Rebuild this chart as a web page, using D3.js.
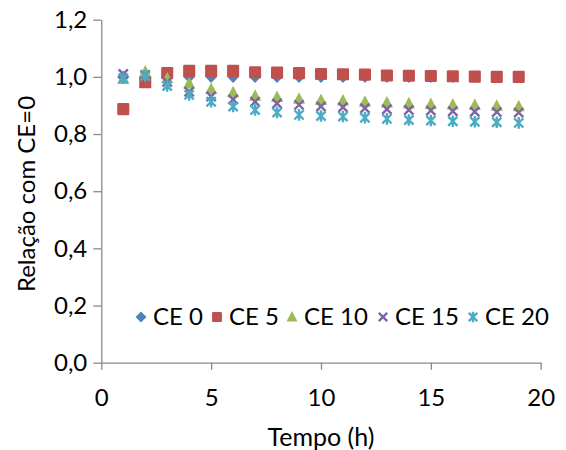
<!DOCTYPE html>
<html><head><meta charset="utf-8">
<script src="https://cdn.jsdelivr.net/npm/d3@7"></script>
<style>body{margin:0;background:#fff}svg{display:block}text{font-family:Lato,"Open Sans",sans-serif;fill:#000}</style>
</head><body>
<svg id="c" width="566" height="450"></svg>
<script>
const hours = [1,2,3,4,5,6,7,8,9,10,11,12,13,14,15,16,17,18,19];
const seriesNames = ["CE 0","CE 5","CE 10","CE 15","CE 20"];
const ce0  = [1,1,1,1,1,1,1,1,1,1,1,1,1,1,1,1,1,1,1];
const ce5  = [0.887,0.981,1.013,1.021,1.021,1.021,1.016,1.015,1.013,1.010,1.009,1.008,1.005,1.004,1.003,1.002,1.001,1.000,1.000];
const ce10 = [0.992,1.018,0.995,0.977,0.957,0.946,0.934,0.929,0.923,0.919,0.917,0.913,0.910,0.907,0.905,0.903,0.901,0.899,0.897];
const ce15 = [1.010,1.007,0.982,0.948,0.931,0.921,0.913,0.907,0.902,0.896,0.894,0.890,0.887,0.884,0.882,0.880,0.878,0.877,0.875];
const ce20 = [0.995,1.003,0.968,0.937,0.913,0.896,0.884,0.875,0.867,0.863,0.861,0.857,0.853,0.849,0.847,0.845,0.843,0.841,0.839];
const xTicks = [0,5,10,15,20];
const yTicks = [0,0.2,0.4,0.6,0.8,1.0,1.2];
const colors = ["#4F81BD","#C0504D","#9BBB59","#8064A2","#4BACC6"];
const shapes = ["diamond","square","triangle","cross","star"];
const values = [ce0,ce5,ce10,ce15,ce20];

const svg = d3.select("#c");
const x = d3.scaleLinear().domain([0,20]).range([101.3,540.7]);
const y = d3.scaleLinear().domain([0,1.2]).range([362.7,19.7]);
const fmt = d => d3.format(".1f")(d).replace(".", ",");
const FS = 24;

const axisColor = "#898989";
const gx = svg.append("g").attr("transform",`translate(0,${y(0)})`)
  .call(d3.axisBottom(x).tickValues(xTicks).tickSize(7).tickPadding(19).tickSizeOuter(0));
const gy = svg.append("g").attr("transform",`translate(${x(0)},0)`)
  .call(d3.axisLeft(y).tickValues(yTicks).tickFormat(fmt).tickSize(8).tickPadding(6).tickSizeOuter(0));
[gx,gy].forEach(g=>{
  g.selectAll("path,line").attr("stroke",axisColor).attr("stroke-width",1.3);
  g.selectAll("text").style("font-size",FS+"px").style("font-family","Lato, 'Open Sans', sans-serif").attr("fill","#000");
});

function drawMarker(g, shape, color, s){
  if(shape==="diamond"){
    g.append("path").attr("d",`M0,${-s*0.55}L${s*0.55},0L0,${s*0.55}L${-s*0.55},0Z`).attr("fill",color);
  } else if(shape==="square"){
    g.append("rect").attr("x",-s*0.55).attr("y",-s*0.55).attr("width",s*1.1).attr("height",s*1.1).attr("rx",1.2).attr("fill",color);
  } else if(shape==="triangle"){
    g.append("path").attr("d",`M0,${-s*0.6}L${s*0.55},${s*0.45}L${-s*0.55},${s*0.45}Z`).attr("fill",color);
  } else if(shape==="cross"){
    const h=s*0.42;
    g.append("path").attr("d",`M${-h},${-h}L${h},${h}M${-h},${h}L${h},${-h}`).attr("stroke",color).attr("stroke-width",2.4).attr("fill","none");
  } else {
    const h=s*0.42;
    g.append("path").attr("d",`M${-h},${-h}L${h},${h}M${-h},${h}L${h},${-h}M0,${-h*1.25}L0,${h*1.25}`).attr("stroke",color).attr("stroke-width",2.4).attr("fill","none");
  }
}

const M = 11;
values.forEach((vals,i)=>{
  const g = svg.append("g");
  vals.forEach((v,j)=>{
    const m = g.append("g").attr("transform",`translate(${x(hours[j])},${y(v)})`);
    drawMarker(m, shapes[i], colors[i], M);
  });
});

// legend
const legendX = [141,217,292,383,473];
const leg = svg.append("g");
seriesNames.forEach((n,i)=>{
  const m = leg.append("g").attr("transform",`translate(${legendX[i]},317)`);
  drawMarker(m, shapes[i], colors[i], i===1?9:10);
  leg.append("text").attr("x",legendX[i]+12).attr("y",317).attr("dy","0.35em")
    .style("font-size",FS+"px").text(n);
});

svg.append("text").attr("x",321).attr("y",437).attr("dy","0.35em").attr("text-anchor","middle")
  .style("font-size","25px").text("Tempo (h)");
svg.append("text").attr("transform","translate(27,194) rotate(-90)").attr("dy","0.35em").attr("text-anchor","middle")
  .style("font-size",FS+"px").text("Relação com CE=0");
</script>
</body></html>
